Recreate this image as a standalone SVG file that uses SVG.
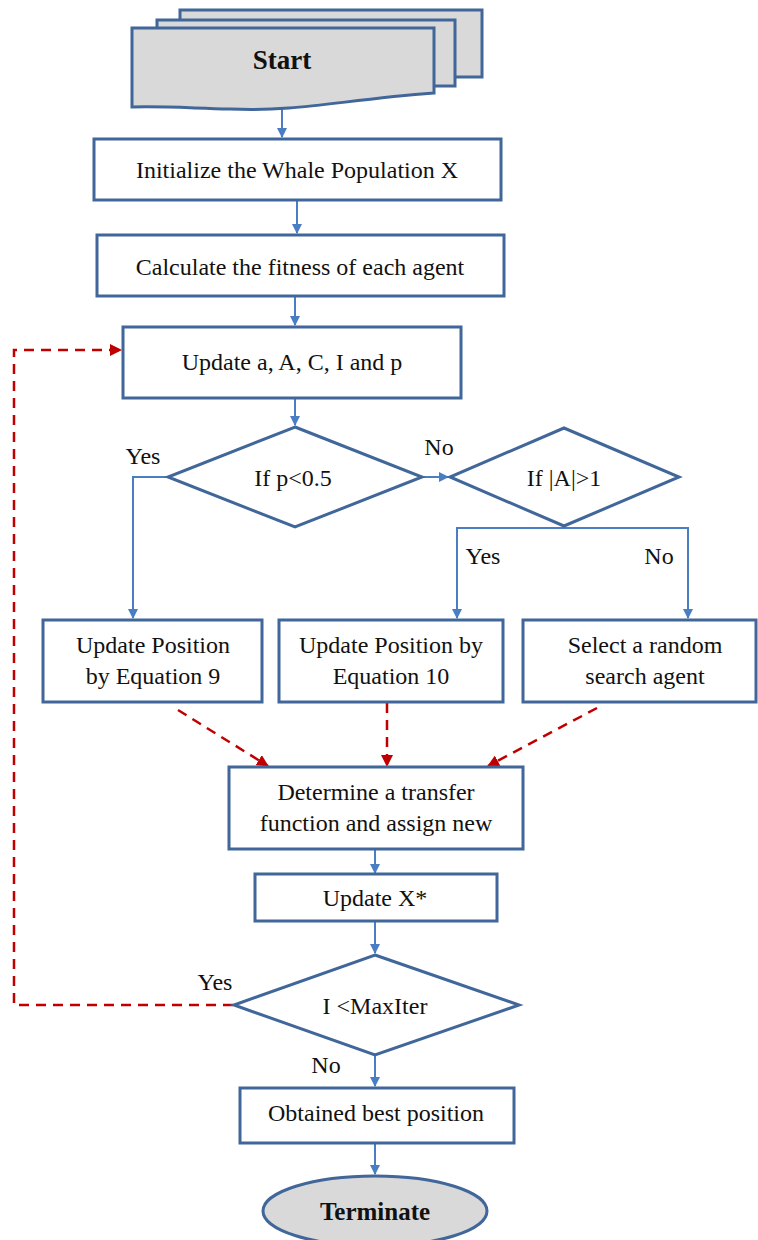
<svg xmlns="http://www.w3.org/2000/svg" width="758" height="1240" viewBox="0 0 758 1240">
<style>
.box{fill:#fff;stroke:#41679A;stroke-width:3}
.gray{fill:#D9D9D9;stroke:#41679A;stroke-width:3}
.t{font-family:"Liberation Serif","Times New Roman",serif;font-size:24px;fill:#111;text-anchor:middle}
.b{font-weight:bold}
.c{fill:none;stroke:#4A7EC2;stroke-width:2}
.r{fill:none;stroke:#C00000;stroke-width:2.5;stroke-dasharray:10,7}
</style>
<defs>
<marker id="ab" markerWidth="10" markerHeight="10" refX="9" refY="5" orient="auto" markerUnits="userSpaceOnUse"><path d="M0,0 L10,5 L0,10 z" fill="#4A7EC2"/></marker>
<marker id="ar" markerWidth="12" markerHeight="12" refX="11" refY="6" orient="auto" markerUnits="userSpaceOnUse"><path d="M0,0 L12,6 L0,12 z" fill="#C00000"/></marker>
</defs>
<rect width="758" height="1240" fill="#fff"/>
<g id="connectors">
<path class="c" d="M282,107 V137" marker-end="url(#ab)"/>
<path class="c" d="M297,200 V233" marker-end="url(#ab)"/>
<path class="c" d="M295,296 V325" marker-end="url(#ab)"/>
<path class="c" d="M295,398 V425" marker-end="url(#ab)"/>
<path class="c" d="M168,477 H133 V618" marker-end="url(#ab)"/>
<path class="c" d="M422,477 H448" marker-end="url(#ab)"/>
<path class="c" d="M457,600 V528 H688 V600"/>
<path class="c" d="M457,600 V618" marker-end="url(#ab)"/>
<path class="c" d="M688,600 V618" marker-end="url(#ab)"/>
<path class="r" d="M178,710 L268,766" marker-end="url(#ar)"/>
<path class="r" d="M387,703 V766" marker-end="url(#ar)"/>
<path class="r" d="M597,708 L488,766" marker-end="url(#ar)"/>
<path class="c" d="M375,849 V873" marker-end="url(#ab)"/>
<path class="c" d="M375,921 V953" marker-end="url(#ab)"/>
<path class="c" d="M375,1056 V1086" marker-end="url(#ab)"/>
<path class="c" d="M375,1143 V1174" marker-end="url(#ab)"/>
<path class="r" d="M233,1005 H14 V350 H121" marker-end="url(#ar)"/>
<text class="t" x="143" y="464">Yes</text>
<text class="t" x="439" y="455">No</text>
<text class="t" x="483" y="564">Yes</text>
<text class="t" x="659" y="564">No</text>
<text class="t" x="215" y="990">Yes</text>
<text class="t" x="326" y="1073">No</text>
</g>
<g id="start">
<rect class="gray" x="180" y="10" width="302" height="67"/>
<rect class="gray" x="157" y="20" width="298" height="66"/>
<path class="gray" d="M132,28 H434 V93 C340,100 300,112 230,109 C190,108 160,106 132,107 Z"/>
<text class="t b" x="282" y="69" style="font-size:27px">Start</text>
</g>
<g id="init">
<rect class="box" x="94" y="139" width="407" height="61"/>
<text class="t" x="297" y="178">Initialize the Whale Population X</text>
</g>
<g id="fitness">
<rect class="box" x="97" y="235" width="407" height="61"/>
<text class="t" x="300" y="275">Calculate the fitness of each agent</text>
</g>
<g id="update">
<rect class="box" x="123" y="327" width="338" height="71"/>
<text class="t" x="292" y="370">Update a, A, C, I and p</text>
</g>
<g id="d1">
<polygon class="box" points="295,427 422,477 295,527 168,477"/>
<text class="t" x="293" y="486">If p&lt;0.5</text>
</g>
<g id="d2">
<polygon class="box" points="564,428 679,477 564,526 450,477"/>
<text class="t" x="564" y="486">If |A|&gt;1</text>
</g>
<g id="eq9">
<rect class="box" x="43" y="620" width="219" height="82"/>
<text class="t" x="153" y="653">Update Position</text>
<text class="t" x="153" y="684">by Equation 9</text>
</g>
<g id="eq10">
<rect class="box" x="279" y="620" width="224" height="82"/>
<text class="t" x="391" y="653">Update Position by</text>
<text class="t" x="391" y="684">Equation 10</text>
</g>
<g id="random">
<rect class="box" x="523" y="620" width="233" height="82"/>
<text class="t" x="645" y="653">Select a random</text>
<text class="t" x="645" y="684">search agent</text>
</g>
<g id="transfer">
<rect class="box" x="229" y="767" width="294" height="82"/>
<text class="t" x="376" y="800">Determine a transfer</text>
<text class="t" x="376" y="831">function and assign new</text>
</g>
<g id="updx">
<rect class="box" x="255" y="874" width="242" height="47"/>
<text class="t" x="375" y="906">Update X*</text>
</g>
<g id="d3">
<polygon class="box" points="375,955 519,1005 375,1055 234,1005"/>
<text class="t" x="375" y="1014">I &lt;MaxIter</text>
</g>
<g id="best">
<rect class="box" x="240" y="1088" width="274" height="55"/>
<text class="t" x="376" y="1121">Obtained best position</text>
</g>
<g id="terminate">
<ellipse class="gray" cx="375" cy="1211" rx="112" ry="35"/>
<text class="t b" x="375" y="1220" style="font-size:25px">Terminate</text>
</g>
</svg>
